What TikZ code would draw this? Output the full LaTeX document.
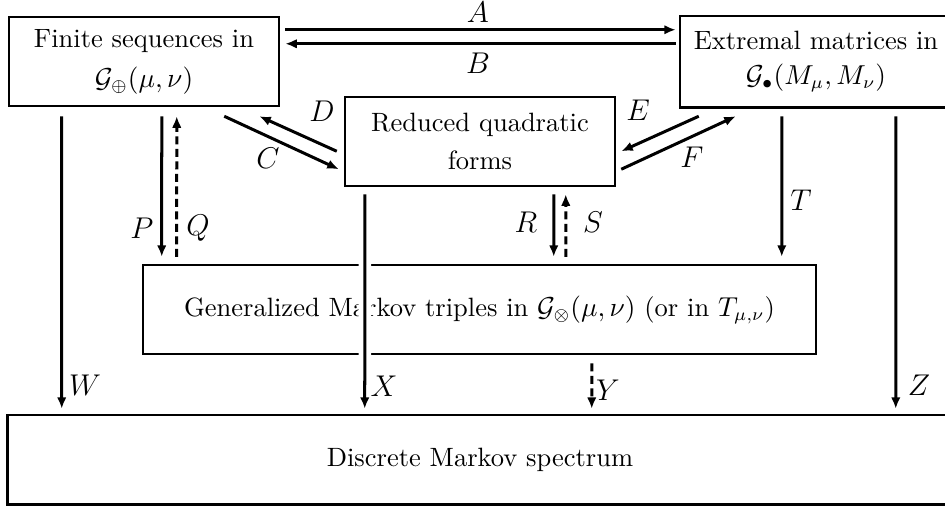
\documentclass[tikz,border=0pt]{standalone}
\usetikzlibrary{calc,arrows.meta}
\begin{document}
\begin{tikzpicture}[x=0.4pt,y=-0.4pt,
  box/.style={draw,line width=1pt,inner sep=0pt,minimum width=108pt,minimum height=35.6pt,align=center,font=\fontsize{10.6pt}{13pt}\selectfont},
  openbox/.style={box,draw=none},
  edge/.style={line width=1pt},
  arr/.style={line width=1.2pt,-{Latex[length=4.6pt,width=3.8pt]}},
  dsh/.style={arr,dash pattern=on 3.2pt off 1.8pt},
  lab/.style={inner sep=0pt,font=\fontsize{12.6pt}{15pt}\selectfont}]
\useasboundingbox (0,0) rectangle (945,508);
\clip (0,0) rectangle (945,508);
\fill[white] (0,0) rectangle (945,508);
% boxes
\node[box] (b1) at (144,61.5) {Finite sequences in\\[3pt] $\mathcal{G}_{\oplus}(\mu,\nu)$};
\node[openbox] (b2) at (816,61.5) {Extremal matrices in\\[1pt] $\mathcal{G}_{\bullet}(M_\mu,M_\nu)$};
\draw[edge] (b2.north east) -- (b2.north west) -- (b2.south west) -- (b2.south east);
\node[box] (b3) at (480,141.5) {Reduced quadratic\\[2pt] forms};
\node[box,minimum width=269.2pt] (b4) at (479.5,309.5) {Generalized Markov triples in $\mathcal{G}_{\otimes}(\mu,\nu)$ (or in $T_{\mu,\nu}$)};
\node[openbox,minimum width=376.8pt,minimum height=34.8pt] (b5) at (480,459.5) {Discrete Markov spectrum};
\draw[edge] (b5.north east) -- (b5.north west) -- (b5.south west) -- (b5.south east);
% A, B
\draw[arr] ($(b1.north east)+(5,14)$) -- ($(b2.north west)+(-4,14)$);
\draw[arr] ($(b2.north west)+(-4,28)$) -- ($(b1.north east)+(5,28)$);
\node[lab] (lA) at (478,12) {$A$};
\node[lab] (lB) at (478,63) {$B$};
% C, D
\draw[arr] ($(b1.south east)+(-56,9)$) -- ($(b3.south west)+(-5,-18)$);
\draw[arr] ($(b3.south west)+(-7,-36)$) -- ($(b1.south east)+(-21,9)$);
\node[lab] (lC) at (268,158) {$C$};
\node[lab] (lD) at (322,111) {$D$};
% E, F
\draw[arr] ($(b2.south west)+(19,9)$) -- ($(b3.south east)+(5,-36)$);
\draw[arr] ($(b3.south east)+(5,-18)$) -- ($(b2.south west)+(56,9)$);
\node[lab] (lE) at (638,110) {$E$};
\node[lab] (lF) at (692,157) {$F$};
% P, Q
\draw[arr] ($(b1.south west)+(154,9)$) -- ($(b4.north west)+(20,-7)$);
\draw[dsh] ($(b4.north west)+(35,-7)$) -- ($(b1.south west)+(169,9)$);
\node[lab] (lP) at (142,228) {$P$};
\node[lab] (lQ) at (198,228) {$Q$};
% R, S
\draw[arr] ($(b3.south west)+(210,7)$) -- ($(b4.north west)+(412,-7)$);
\draw[dsh] ($(b4.north west)+(424,-7)$) -- ($(b3.south west)+(222,7)$);
\node[lab] (lR) at (526,222) {$R$};
\node[lab] (lS) at (593,222) {$S$};
% T
\draw[arr] ($(b2.south west)+(102,9)$) -- ($(b4.north west)+(640,-7)$);
\node[lab] (lT) at (801,200) {$T$};
% W, Z
\draw[arr] ($(b1.south west)+(54,9)$) -- ($(b5.north west)+(54,-6)$);
\draw[arr] ($(b2.south west)+(216,9)$) -- ($(b5.north west)+(888,-6)$);
\node[lab] (lW) at (85,385) {$W$};
\node[lab] (lZ) at (919,385) {$Z$};
% X (crossing), Y
\draw[arr,preaction={draw=white,line width=5pt,-}] ($(b3.south west)+(21,7)$) -- ($(b5.north west)+(357,-6)$);
\draw[dsh] ($(b4.south west)+(450,8)$) -- ($(b5.north west)+(584,-6)$);
\node[lab] (lX) at (384,386) {$X$};
\node[lab] (lY) at (608,390) {$Y$};
\end{tikzpicture}
\end{document}
